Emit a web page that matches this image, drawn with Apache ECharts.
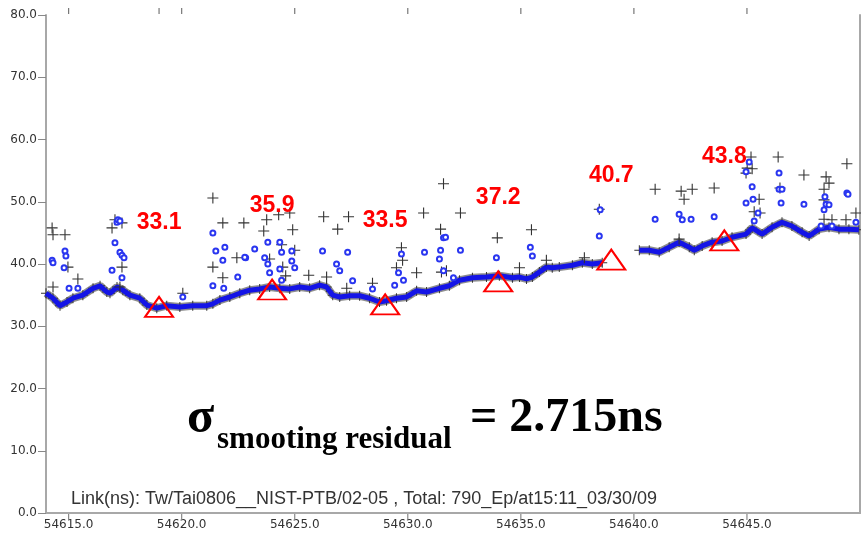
<!DOCTYPE html>
<html>
<head>
<meta charset="utf-8">
<script src="https://cdn.jsdelivr.net/npm/echarts@6/dist/echarts.min.js"></script>
<style>
  html, body { margin: 0; background: #fff; }
  #chart { width: 861px; height: 533px; }
</style>
</head>
<body>
<div id="chart"></div>
<script>
// axis ticks
const xTicks = [54615, 54620, 54625, 54630, 54635, 54640, 54645];
const topTicks = [54615, 54619, 54620, 54625, 54630, 54635, 54640, 54645];
const yTicks = [0, 10, 20, 30, 40, 50, 60, 70, 80];

// smoothed link curve (two segments, gap near MJD 54639-54640)
const baseDaysA = [54614.00, 54614.31, 54614.62, 54614.93, 54615.19, 54615.63, 54616.08, 54616.39, 54616.69, 54616.83,
  54617.14, 54617.40, 54617.71, 54618.15, 54618.46, 54618.90, 54619.34, 54619.92, 54620.49, 54621.11,
  54621.38, 54621.69, 54622.13, 54622.57, 54623.01, 54623.45, 54623.89, 54624.34, 54624.78, 54625.22,
  54625.66, 54626.10, 54626.41, 54626.68, 54626.99, 54627.43, 54627.87, 54628.31, 54628.75, 54629.06,
  54629.50, 54629.95, 54630.39, 54630.83, 54631.40, 54631.84, 54632.29, 54632.86, 54633.48, 54634.05,
  54634.63, 54634.94, 54635.25, 54635.51, 54635.82, 54636.13, 54636.39, 54636.70, 54637.28, 54637.72,
  54638.16, 54638.60];
const baseValsA = [35.3, 34.5, 33.3, 33.9, 34.5, 35.0, 36.1, 36.5, 35.5, 35.3,
  36.3, 35.8, 35.0, 34.5, 33.4, 32.9, 33.3, 33.1, 33.3, 33.3,
  33.6, 34.2, 34.7, 35.3, 35.8, 36.0, 36.3, 36.1, 36.0, 36.3,
  36.1, 36.6, 36.3, 35.0, 34.7, 34.9, 34.9, 34.5, 33.9, 34.1,
  34.5, 34.7, 35.7, 35.5, 36.1, 36.5, 37.4, 37.8, 37.9, 38.1,
  37.8, 37.9, 37.6, 37.9, 38.7, 39.5, 39.4, 39.5, 39.8, 40.2,
  40.0, 40.2];
const baseDaysB = [54640.24, 54640.68, 54641.12, 54641.56, 54642.00, 54642.45, 54642.67, 54643.02, 54643.46, 54643.90,
  54644.34, 54644.96, 54645.23, 54645.67, 54646.11, 54646.55, 54646.99, 54647.44, 54647.75, 54648.19,
  54648.63, 54649.07, 54649.51, 54649.95];
const baseValsB = [42.2, 42.2, 41.9, 42.7, 43.5, 42.7, 42.2, 42.9, 43.5, 43.7,
  44.3, 44.8, 45.8, 44.8, 45.9, 46.7, 46.1, 45.1, 44.5, 45.6,
  45.9, 45.6, 45.6, 45.5];

// raw outliers (black +)
const plusDays = [54614.27, 54614.31, 54614.84, 54614.97, 54615.41, 54614.31, 54617.05, 54617.36, 54616.92, 54617.36,
  54617.27, 54620.05, 54621.38, 54621.82, 54621.38, 54621.82, 54622.44, 54622.75, 54623.63, 54623.76,
  54624.29, 54624.78, 54624.91, 54624.42, 54625.00, 54623.89, 54624.47, 54624.60, 54625.62, 54626.28,
  54626.90, 54627.38, 54626.41, 54627.30, 54628.44, 54629.72, 54629.77, 54629.50, 54630.39, 54630.70,
  54631.45, 54631.58, 54631.49, 54631.71, 54632.33, 54633.96, 54634.94, 54635.47, 54636.13, 54637.81,
  54638.47, 54640.94, 54642.09, 54642.22, 54642.58, 54643.55, 54642.00, 54645.18, 54645.01, 54645.23,
  54644.96, 54646.38, 54646.46, 54645.54, 54645.32, 54645.58, 54647.52, 54648.50, 54648.63, 54648.41,
  54648.41, 54649.42, 54649.82, 54648.41, 54648.76, 54649.38];
const plusVals = [45.8, 44.7, 44.7, 39.5, 37.6, 36.3, 47.1, 46.6, 45.8, 39.5,
  36.3, 35.3, 50.6, 46.6, 39.5, 37.8, 41.0, 46.6, 45.3, 47.1,
  47.9, 48.2, 45.5, 43.1, 42.2, 40.8, 39.5, 38.1, 38.2, 47.6,
  45.6, 47.6, 37.9, 36.1, 36.9, 42.6, 40.6, 39.4, 38.6, 48.2,
  45.6, 52.9, 38.7, 38.9, 48.2, 44.2, 39.4, 45.5, 40.6, 41.0,
  48.8, 52.0, 51.7, 50.4, 52.0, 52.2, 44.0, 57.2, 55.4, 55.3,
  54.6, 57.2, 52.2, 50.4, 48.4, 48.2, 54.3, 54.0, 53.0, 52.0,
  50.3, 56.1, 48.2, 47.2, 47.1, 47.1];

// filtered outliers (blue dots)
const dotDays = [54614.27, 54614.31, 54614.84, 54614.88, 54614.80, 54615.02, 54615.41, 54617.05, 54617.27, 54617.36,
  54617.45, 54616.92, 54617.36, 54617.14, 54617.18, 54617.27, 54620.05, 54621.38, 54621.51, 54621.91,
  54621.82, 54621.38, 54621.86, 54622.48, 54622.83, 54622.79, 54623.23, 54623.81, 54624.34, 54624.42,
  54624.87, 54623.67, 54623.81, 54624.87, 54625.00, 54624.34, 54623.89, 54624.42, 54626.23, 54627.34,
  54626.85, 54626.99, 54627.56, 54629.72, 54629.59, 54629.81, 54629.42, 54630.74, 54631.45, 54631.40,
  54631.58, 54631.67, 54631.58, 54628.44, 54632.33, 54633.92, 54635.42, 54635.51, 54638.51, 54638.47,
  54632.02, 54640.94, 54642.00, 54642.14, 54642.53, 54643.55, 54645.10, 54644.96, 54645.23, 54644.96,
  54645.27, 54645.49, 54645.32, 54646.42, 54646.42, 54646.55, 54646.51, 54647.52, 54648.45, 54648.50,
  54648.63, 54648.41, 54649.42, 54649.47, 54648.28, 54648.76, 54649.82];
const dotVals = [40.6, 40.2, 42.1, 41.3, 39.4, 36.1, 36.1, 43.4, 41.9, 41.4,
  41.0, 39.0, 37.8, 46.7, 47.1, 46.9, 34.7, 45.0, 42.1, 42.7,
  40.6, 36.5, 36.1, 37.9, 41.0, 41.1, 42.4, 43.5, 43.5, 41.9,
  42.1, 41.0, 40.0, 40.5, 39.4, 39.2, 38.6, 37.4, 42.1, 41.9,
  40.0, 38.9, 37.3, 41.6, 38.6, 37.4, 36.6, 41.9, 42.2, 40.8,
  44.2, 44.3, 38.9, 36.0, 42.2, 41.0, 42.7, 41.3, 48.7, 44.5,
  37.8, 47.2, 48.0, 47.1, 47.2, 47.6, 56.4, 54.8, 52.4, 49.8,
  50.4, 48.2, 46.9, 54.6, 52.0, 52.0, 49.8, 49.6, 50.8, 49.6,
  49.5, 48.7, 51.4, 51.2, 46.1, 46.1, 46.7];

// marked values (red triangles)
const markDays = [54619, 54624, 54629, 54634, 54639, 54644];
const markVals = [33.1, 35.9, 33.5, 37.2, 40.7, 43.8];

const zip = (a, b) => a.map((d, i) => [d, b[i]]);

const plusPath = 'path://M4.5,0h1v10h-1z M0,4.5h10v1h-10z';
const tickPath = 'path://M0,0h1v10h-1z';
const axisGray = '#a8a8a8';
const tickFont = '"DejaVu Sans", Verdana, sans-serif';
const labelFont = '"Liberation Sans", Arial, sans-serif';
const serif = '"Liberation Serif", "Times New Roman", serif';

const chart = echarts.init(document.getElementById('chart'));

const option = {
  animation: false,
  backgroundColor: '#fff',
  grid: { left: 46, right: 1, top: 15, bottom: 20 },
  xAxis: [
    {
      type: 'value', min: 54614, max: 54650, position: 'bottom',
      axisLine: { show: true, lineStyle: { color: axisGray, width: 2 } },
      axisTick: { show: false },
      axisLabel: { customValues: xTicks, formatter: v => v.toFixed(1), color: '#333', fontSize: 12, fontFamily: tickFont, margin: 6 },
      splitLine: { show: false }
    },
    {
      type: 'value', min: 54614, max: 54650, position: 'top',
      axisLine: { show: true, lineStyle: { color: axisGray, width: 2 } },
      axisTick: { show: false }, axisLabel: { show: false },
      splitLine: { show: false }
    }
  ],
  yAxis: [
    {
      type: 'value', min: yTicks[0], max: yTicks[yTicks.length - 1], interval: 10, position: 'left',
      axisLine: { show: true, lineStyle: { color: axisGray, width: 2 } },
      axisTick: { show: true, length: 8, lineStyle: { color: '#888' } },
      axisLabel: { formatter: v => v.toFixed(1), color: '#333', fontSize: 12, fontFamily: tickFont, margin: 9 },
      splitLine: { show: false }
    },
    {
      type: 'value', min: 0, max: 80, position: 'right',
      axisLine: { show: true, lineStyle: { color: axisGray, width: 2 } },
      axisTick: { show: false }, axisLabel: { show: false }, splitLine: { show: false }
    }
  ],
  series: [
    // tick marks on the bottom and top frame
    {
      type: 'scatter', data: xTicks.map(d => [d, 0]), z: 0, clip: false, silent: true,
      symbol: tickPath, symbolSize: [1.2, 6], symbolOffset: [0, 4],
      itemStyle: { color: '#888', opacity: 1 }
    },
    {
      type: 'scatter', data: topTicks.map(d => [d, 80]), z: 0, clip: false, silent: true,
      symbol: tickPath, symbolSize: [1.2, 6], symbolOffset: [0, -4],
      itemStyle: { color: '#777', opacity: 1 }
    },
    // black raw fuzz under the curve
    ...[[baseDaysA, baseValsA], [baseDaysB, baseValsB]].map(([d, v]) => ({
      type: 'line', data: zip(d, v), z: 1,
      lineStyle: { color: 'rgba(30,30,30,0.5)', width: 8 },
      symbol: plusPath, symbolSize: 10, showSymbol: true,
      itemStyle: { color: '#333' }
    })),
    // blue smoothed curve
    ...[[baseDaysA, baseValsA], [baseDaysB, baseValsB]].map(([d, v]) => ({
      type: 'line', data: zip(d, v), z: 2,
      lineStyle: { color: '#1414e6', width: 5 },
      showSymbol: false
    })),
    {
      type: 'scatter', data: zip(plusDays, plusVals), z: 3,
      symbol: plusPath, symbolSize: 11,
      itemStyle: { color: '#333', opacity: 1 }
    },
    {
      type: 'scatter', data: zip(dotDays, dotVals), z: 4,
      symbol: 'emptyCircle', symbolSize: 5,
      itemStyle: { color: '#2a36f0', borderWidth: 1.6, opacity: 1 }
    },
    {
      type: 'scatter', data: zip(markDays, markVals), z: 5,
      symbol: 'triangle', symbolSize: [28, 20],
      itemStyle: { color: 'rgba(255,255,255,0)', borderColor: '#ff0000', borderWidth: 2, opacity: 1 },
      label: {
        show: true, position: 'inside', offset: [0, -84],
        formatter: p => p.value[1].toFixed(1),
        color: '#ff0000', fontSize: 23, fontWeight: 'bold', fontFamily: labelFont
      }
    }
  ],
  graphic: [
    {
      type: 'text', left: 187, top: 394,
      style: { text: 'σ', font: 'bold 50px ' + serif, fill: '#000' }
    },
    {
      type: 'text', left: 217, top: 424,
      style: { text: 'smooting residual', font: 'bold 31px ' + serif, fill: '#000' }
    },
    {
      type: 'text', left: 470, top: 395,
      style: { text: '= 2.715ns', font: 'bold 48px ' + serif, fill: '#000' }
    },
    {
      type: 'text', left: 71, top: 490,
      style: { text: 'Link(ns): Tw/Tai0806__NIST-PTB/02-05 , Total: 790_Ep/at15:11_03/30/09', font: '18px ' + labelFont, fill: '#333' }
    }
  ]
};

chart.setOption(option);
</script>
</body>
</html>
